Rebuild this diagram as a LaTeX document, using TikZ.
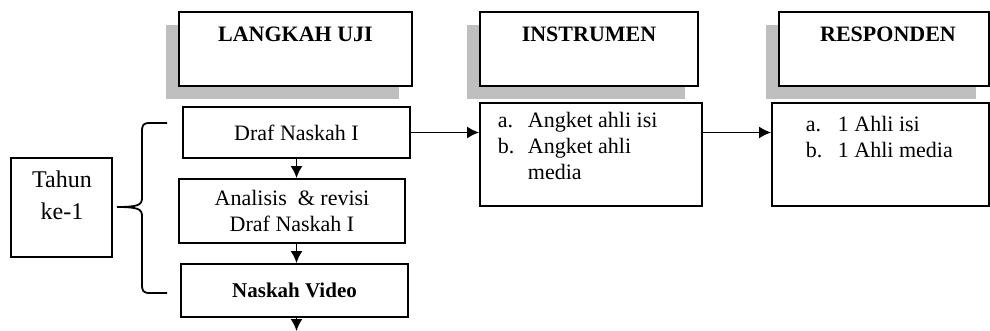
\documentclass[tikz,border=0pt]{standalone}
\usepackage{fontspec}
\setmainfont{Liberation Serif}
\usepackage{tikz}
\usetikzlibrary{arrows.meta}
\usetikzlibrary{shadows}
\tikzset{
every picture/.style={line width=0.9pt, >={Latex[length=6pt,width=6pt]},
                      x=0.5pt, y=-0.5pt},
%%%%%%%%%%  Box styles
boxsize/.style 2 args={minimum width=#1*0.5pt, minimum height=#2*0.5pt},
frame/.style={draw, rectangle, fill=white, inner sep=0pt,
              font=\fontsize{11}{13}\selectfont},
header/.style={frame, copy shadow={shadow xshift=-6.5pt, shadow yshift=-6.5pt,
              fill=black!25, draw=none}},
%%%%%%%%%%  Text styles
head_text/.style={anchor=base, inner sep=0pt,
                  font=\fontsize{11}{13}\selectfont\bfseries},
list_text/.style={anchor=base west, inner sep=0pt,
                  font=\fontsize{11}{13}\selectfont}
}

\begin{document}
\begin{tikzpicture}
\useasboundingbox (0,0) rectangle (990,331);
%%headers
\node[header, boxsize={233}{74}] (langkah) at (295.5,49) {};
\node[header, boxsize={218}{74}] (instrumen) at (589,49) {};
\node[header, boxsize={210}{74}] (responden) at (884,49) {};
\node[head_text] (langkah_txt) at (295.5,42) {LANGKAH UJI};
\node[head_text] (instrumen_txt) at (589,42) {INSTRUMEN};
\node[head_text] (responden_txt) at (888,42) {RESPONDEN};
%%tahun + brace
\node[frame, boxsize={101}{99}] (tahun) at (61.5,207.5) {};
\node[align=center, inner sep=0pt, font=\fontsize{12}{16}\selectfont]
	(tahun_txt) at (62,195) {Tahun\\ke-1};
\coordinate (brace_top) at (167,123);
\coordinate (brace_tip) at (117,207);
\coordinate (brace_bot) at (167,293);
\draw (brace_top) -- (150,123)
	.. controls (143,123) and (142,125) .. (142,132) -- (142,198)
	.. controls (142,205) and (138,207) .. (brace_tip)
	.. controls (138,207) and (142,209) .. (142,216) -- (142,284)
	.. controls (142,291) and (143,293) .. (150,293) -- (brace_bot);
%%langkah uji column
\node[frame, boxsize={227}{51}] (draf) at (296.5,132.5) {Draf Naskah I};
\node[frame, boxsize={226}{64}, align=center] (analisis) at (292,211)
	{Analisis\ \ \& revisi\\Draf Naskah I};
\node[frame, boxsize={227}{53}, font=\fontsize{10.5}{13}\selectfont\bfseries]
	(video) at (294.5,290.5) {Naskah Video};
\coordinate (next) at (296.5,331);
%%instrumen + responden
\node[frame, boxsize={222}{103}] (angket) at (591,154.5) {};
\node[frame, boxsize={217}{103}] (ahli) at (880.5,154.5) {};
\node[list_text] (angket_txt) at (497,128)
	{\begin{tabular}[t]{@{}p{15pt}@{}l@{}}
	a. & Angket ahli isi\\
	b. & Angket ahli\\
	   & media
	\end{tabular}};
\node[list_text] (ahli_txt) at (805,132)
	{\begin{tabular}[t]{@{}p{16pt}@{}l@{}}
	a. & 1 Ahli isi\\
	b. & 1 Ahli media
	\end{tabular}};
%%arrows
\draw[->] (draf.east) -- (draf.east -| angket.west);
\draw[->] (angket.east |- draf.east) -- (ahli.west |- draf.east);
\draw[->] (draf.south) -- (draf.south |- analisis.north);
\draw[->] (draf.south |- analisis.south) -- (draf.south |- video.north);
\draw[->] (draf.south |- video.south) -- (next);
\end{tikzpicture}
\end{document}
